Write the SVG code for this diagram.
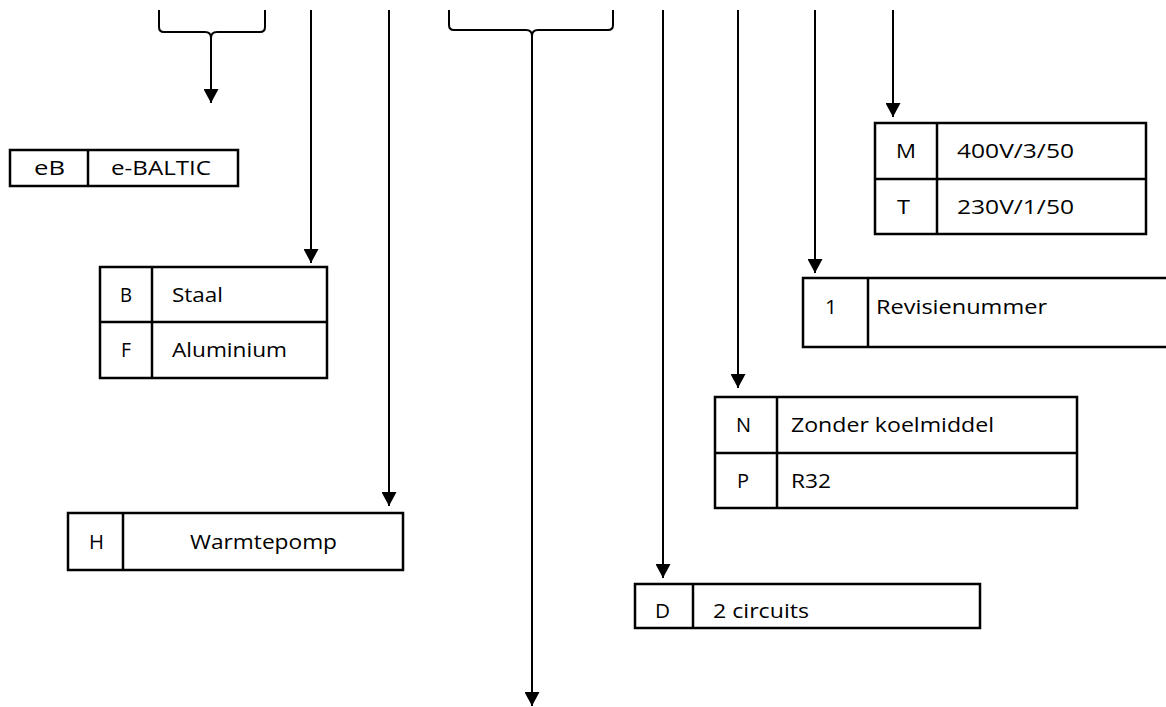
<svg xmlns="http://www.w3.org/2000/svg" width="1166" height="707" viewBox="0 0 1166 707">
<style>
.cell{fill:#fff;stroke:#000;stroke-width:2.5}
.div{stroke:#000;stroke-width:2.5}
.ln{stroke:#000;stroke-width:2;fill:none}
.t{font-family:"Open Sans","Noto Sans",sans-serif;font-size:20px;fill:#000}
.c{text-anchor:middle}
</style>
<defs>
<marker id="ah" markerUnits="userSpaceOnUse" markerWidth="15" markerHeight="15" refX="14" refY="7.5" orient="auto">
<path d="M0,0 L14,7.5 L0,15 z" fill="#000"/>
</marker>
</defs>
<rect width="1166" height="707" fill="#fff"/>
<g id="connectors">
<path class="ln" d="M159,10 V27 Q159,32 164,32 H205 Q211,32 211,38 Q211,32 217,32 H260 Q265,32 265,27 V10"/>
<line class="ln" x1="211" y1="36" x2="211" y2="103" marker-end="url(#ah)"/>
<line class="ln" x1="311" y1="10" x2="311" y2="263" marker-end="url(#ah)"/>
<line class="ln" x1="389" y1="10" x2="389" y2="506" marker-end="url(#ah)"/>
<path class="ln" d="M449,10 V25 Q449,30 454,30 H526 Q532,30 532,36 Q532,30 538,30 H608 Q613,30 613,25 V10"/>
<line class="ln" x1="532" y1="34" x2="532" y2="706" marker-end="url(#ah)"/>
<line class="ln" x1="663" y1="10" x2="663" y2="578" marker-end="url(#ah)"/>
<line class="ln" x1="738" y1="10" x2="738" y2="388" marker-end="url(#ah)"/>
<line class="ln" x1="815" y1="10" x2="815" y2="273" marker-end="url(#ah)"/>
<line class="ln" x1="893" y1="10" x2="893" y2="117" marker-end="url(#ah)"/>
</g>
<g id="node-eb">
<rect class="cell" x="10" y="150" width="228" height="36"/>
<line class="div" x1="88" y1="150" x2="88" y2="186"/>
<text class="t" x="34" y="175" textLength="31" lengthAdjust="spacingAndGlyphs">eB</text>
<text class="t" x="111" y="175" textLength="100" lengthAdjust="spacingAndGlyphs">e-BALTIC</text>
</g>
<g id="node-material">
<rect class="cell" x="100" y="267" width="227" height="111"/>
<line class="div" x1="152" y1="267" x2="152" y2="378"/>
<line class="div" x1="100" y1="322" x2="327" y2="322"/>
<text class="t" x="120" y="302" textLength="12" lengthAdjust="spacingAndGlyphs">B</text>
<text class="t" x="172" y="302" textLength="51" lengthAdjust="spacingAndGlyphs">Staal</text>
<text class="t" x="121" y="357" textLength="10" lengthAdjust="spacingAndGlyphs">F</text>
<text class="t" x="172" y="357" textLength="115" lengthAdjust="spacingAndGlyphs">Aluminium</text>
</g>
<g id="node-type">
<rect class="cell" x="68" y="513" width="335" height="57"/>
<line class="div" x1="123" y1="513" x2="123" y2="570"/>
<text class="t" x="89" y="549" textLength="15" lengthAdjust="spacingAndGlyphs">H</text>
<text class="t" x="190" y="549" textLength="147" lengthAdjust="spacingAndGlyphs">Warmtepomp</text>
</g>
<g id="node-circuits">
<rect class="cell" x="635" y="584" width="345" height="44"/>
<line class="div" x1="693" y1="584" x2="693" y2="628"/>
<text class="t" x="655" y="618" textLength="15" lengthAdjust="spacingAndGlyphs">D</text>
<text class="t" x="713" y="618" textLength="96" lengthAdjust="spacingAndGlyphs">2 circuits</text>
</g>
<g id="node-refrigerant">
<rect class="cell" x="715" y="397" width="362" height="111"/>
<line class="div" x1="777" y1="397" x2="777" y2="508"/>
<line class="div" x1="715" y1="453" x2="1077" y2="453"/>
<text class="t" x="736" y="432" textLength="15" lengthAdjust="spacingAndGlyphs">N</text>
<text class="t" x="737" y="488" textLength="12" lengthAdjust="spacingAndGlyphs">P</text>
<text class="t" x="791" y="432" textLength="203" lengthAdjust="spacingAndGlyphs">Zonder koelmiddel</text>
<text class="t" x="791" y="488" textLength="40" lengthAdjust="spacingAndGlyphs">R32</text>
</g>
<g id="node-revision">
<rect class="cell" x="803" y="278" width="370" height="69"/>
<line class="div" x1="868" y1="278" x2="868" y2="347"/>
<text class="t" x="825" y="314" textLength="12" lengthAdjust="spacingAndGlyphs">1</text>
<text class="t" x="876" y="314" textLength="171" lengthAdjust="spacingAndGlyphs">Revisienummer</text>
</g>
<g id="node-voltage">
<rect class="cell" x="875" y="123" width="271" height="111"/>
<line class="div" x1="937" y1="123" x2="937" y2="234"/>
<line class="div" x1="875" y1="179" x2="1146" y2="179"/>
<text class="t" x="896" y="158" textLength="20" lengthAdjust="spacingAndGlyphs">M</text>
<text class="t" x="897" y="214" textLength="13" lengthAdjust="spacingAndGlyphs">T</text>
<text class="t" x="957" y="158" textLength="117" lengthAdjust="spacingAndGlyphs">400V/3/50</text>
<text class="t" x="957" y="214" textLength="117" lengthAdjust="spacingAndGlyphs">230V/1/50</text>
</g>
</svg>
